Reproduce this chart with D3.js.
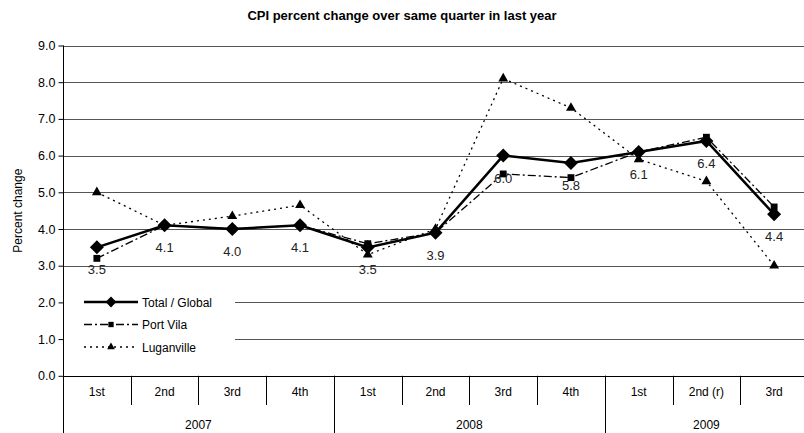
<!DOCTYPE html>
<html><head><meta charset="utf-8">
<script src="https://cdn.jsdelivr.net/npm/d3@7"></script>
<style>body{margin:0;background:#fff}svg{display:block;font-family:"Liberation Sans",Arial,sans-serif}</style>
</head><body><svg id="c" width="804" height="433"></svg>
<script>
const quarters = ["1st","2nd","3rd","4th","1st","2nd","3rd","4th","1st","2nd (r)","3rd"];
const years = [{label:"2007",n:4},{label:"2008",n:4},{label:"2009",n:3}];
const total = [3.5,4.1,4.0,4.1,3.5,3.9,6.0,5.8,6.1,6.4,4.4];
const portVila = [3.2,4.1,4.0,4.1,3.6,3.9,5.5,5.4,6.1,6.5,4.6];
const luganville = [5.0,4.1,4.35,4.65,3.3,4.0,8.1,7.3,5.9,5.3,3.0];
const yTicks = [0,1,2,3,4,5,6,7,8,9];

const svg = d3.select("#c");
const L = 63, R = 808, T = 45.5, B = 375.8;
const x = d3.scaleBand().domain(d3.range(quarters.length)).range([L,R]);
const y = d3.scaleLinear().domain([0,9]).range([B,T]);
const cx = i => x(i) + x.bandwidth()/2;

// title
svg.append("text").attr("x",402).attr("y",20).attr("text-anchor","middle")
  .attr("font-weight","bold").attr("font-size",13).text("CPI percent change over same quarter in last year");

// gridlines
svg.append("g").selectAll("line").data(yTicks.filter(d=>d>0)).join("line")
  .attr("x1",L).attr("x2",R).attr("y1",d=>Math.round(y(d))+0.5).attr("y2",d=>Math.round(y(d))+0.5)
  .attr("stroke","#555").attr("stroke-width",1);

// y axis
const ya = svg.append("g").attr("transform",`translate(${L+0.5},0)`)
  .call(d3.axisLeft(y).tickValues(yTicks).tickFormat(d3.format(".1f")).tickSize(5).tickPadding(3));
ya.select(".domain").remove();
ya.selectAll("text").attr("font-size",12.5).attr("font-family","Liberation Sans, Arial").attr("fill","#000");
ya.selectAll("line").attr("stroke","#000");
svg.append("line").attr("x1",L+0.5).attr("x2",L+0.5).attr("y1",T).attr("y2",433).attr("stroke","#000");
svg.append("text").attr("transform",`translate(22,${(T+B)/2}) rotate(-90)`).attr("text-anchor","middle")
  .attr("font-size",12).text("Percent change");

// x axis baseline
svg.append("line").attr("x1",L).attr("x2",R).attr("y1",Math.round(B)+0.5).attr("y2",Math.round(B)+0.5).attr("stroke","#000");
// quarter separators
svg.append("g").selectAll("line").data(d3.range(1,quarters.length)).join("line")
  .attr("x1",i=>Math.round(x(i))+0.5).attr("x2",i=>Math.round(x(i))+0.5)
  .attr("y1",B).attr("y2",405).attr("stroke","#000");
// year separators
let acc = 0; const yearStarts = years.map(yr=>{const s=acc; acc+=yr.n; return s;});
svg.append("g").selectAll("line").data(yearStarts.slice(1)).join("line")
  .attr("x1",i=>Math.round(x(i))+0.5).attr("x2",i=>Math.round(x(i))+0.5)
  .attr("y1",B).attr("y2",433).attr("stroke","#000");
svg.append("g").selectAll("text").data(quarters).join("text")
  .attr("x",(d,i)=>cx(i)).attr("y",396).attr("text-anchor","middle").attr("font-size",12).text(d=>d);
svg.append("g").selectAll("text").data(years).join("text")
  .attr("x",(d,i)=>(x(yearStarts[i]) + x(yearStarts[i]+d.n-1)+x.bandwidth())/2)
  .attr("y",429).attr("text-anchor","middle").attr("font-size",12).text(d=>d.label);

// legend background
svg.append("rect").attr("x",L+1).attr("y",284).attr("width",171).attr("height",88).attr("fill","#fff");

const line = d3.line().x((d,i)=>cx(i)).y(d=>y(d));
const series = [
  {name:"Total / Global", data:total, dash:null, w:2.5, sym:d3.symbolDiamond2, size:125},
  {name:"Port Vila", data:portVila, dash:"8,3,2,3", w:1.3, sym:d3.symbolSquare2, size:60},
  {name:"Luganville", data:luganville, dash:"2,4", w:1.3, sym:d3.symbolTriangle2, size:70}
];
// draw order: Luganville, Port Vila, Total on top
[2,1,0].forEach(k=>{
  const s = series[k];
  const g = svg.append("g");
  g.append("path").attr("d",line(s.data)).attr("fill","none").attr("stroke","#000")
    .attr("stroke-width",s.w).attr("stroke-dasharray",s.dash);
  g.selectAll("path.m").data(s.data).join("path").attr("class","m")
    .attr("transform",(d,i)=>`translate(${cx(i)},${y(d)})`)
    .attr("d",d3.symbol().type(s.sym).size(s.size)).attr("fill","#000");
});
// data labels for total
svg.append("g").selectAll("text").data(total).join("text")
  .attr("x",(d,i)=>cx(i)).attr("y",d=>y(d)+27).attr("text-anchor","middle")
  .attr("font-size",13).attr("fill","#222").text(d=>d3.format(".1f")(d));

// legend
const lg = svg.append("g");
series.forEach((s,k)=>{
  const yy = 302 + k*22.5;
  lg.append("line").attr("x1",84).attr("x2",138).attr("y1",yy).attr("y2",yy)
    .attr("stroke","#000").attr("stroke-width",s.w).attr("stroke-dasharray",s.dash);
  lg.append("path").attr("transform",`translate(111,${yy})`).attr("d",d3.symbol().type(s.sym).size(s.size*0.6)).attr("fill","#000");
  lg.append("text").attr("x",142).attr("y",yy+4.5).attr("font-size",12).text(s.name);
});
</script></body></html>
